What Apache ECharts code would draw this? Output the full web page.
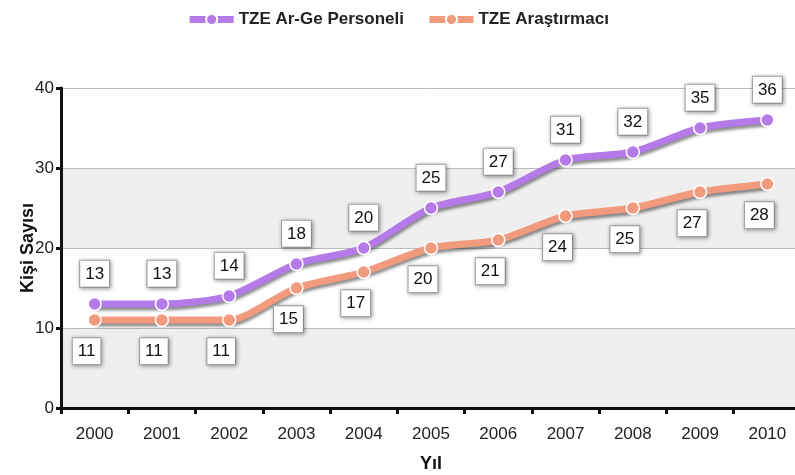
<!DOCTYPE html>
<html><head><meta charset="utf-8">
<script src="https://cdn.jsdelivr.net/npm/echarts@6/dist/echarts.min.js"></script>
<style>html,body{margin:0;padding:0;background:#fff}#c{width:795px;height:475px}</style>
</head><body><div id="c"></div>
<script>
const years = ['2000','2001','2002','2003','2004','2005','2006','2007','2008','2009','2010'];
const personel = [13,13,14,18,20,25,27,31,32,35,36];
const arastirmaci = [11,11,11,15,17,20,21,24,25,27,28];
const yTicks = [0,10,20,30,40];

const purple = '#b47be8';
const orange = '#f29a7e';
const font = '"Liberation Sans", Arial, sans-serif';

function lbl(pos, off, dist){
  return {
    show:true, position:pos, distance:dist, offset:off,
    color:'#111', fontSize:17, fontFamily:font,
    backgroundColor:'#fff', borderColor:'#aaa', borderWidth:1,
    padding:[5,5,4,5],
    shadowColor:'rgba(0,0,0,0.35)', shadowBlur:4, shadowOffsetX:1, shadowOffsetY:1
  };
}
const chart = echarts.init(document.getElementById('c'));
chart.setOption({
  animation:false,
  legend:{
    top:6, left:'center', itemGap:22, itemWidth:44, itemHeight:14,
    textStyle:{fontFamily:font, fontSize:17, fontWeight:'bold', color:'#222'},
    lineStyle:{width:7},
    data:['TZE Ar-Ge Personeli','TZE Araştırmacı']
  },
  grid:{left:61, top:88, width:740, height:320, containLabel:false, outerBoundsMode:'none'},
  xAxis:{
    type:'category', data:years, boundaryGap:true,
    name:'Yıl', nameLocation:'middle', nameGap:47, nameMoveOverlap:false,
    nameTextStyle:{fontFamily:font, fontSize:18, fontWeight:'bold', color:'#111'},
    axisLine:{lineStyle:{color:'#111', width:3}},
    axisTick:{show:true, alignWithLabel:false, length:6, lineStyle:{width:3,color:'#111'}},
    axisLabel:{fontFamily:font, fontSize:17, color:'#222', margin:18}
  },
  yAxis:{
    type:'value', min:0, max:40, interval:10,
    name:'Kişi Sayısı', nameLocation:'middle', nameGap:24, nameMoveOverlap:false,
    nameTextStyle:{fontFamily:font, fontSize:18, fontWeight:'bold', color:'#111'},
    axisLine:{show:true, lineStyle:{color:'#111', width:3}},
    axisTick:{show:true, length:5, lineStyle:{width:3,color:'#111'}},
    axisLabel:{fontFamily:font, fontSize:17, color:'#222', margin:7,
      formatter:v=>yTicks.includes(v)?String(v):''},
    splitLine:{show:true, lineStyle:{color:'#bbb', width:1}},
    splitArea:{show:true, areaStyle:{color:['#efefef','#ffffff']}}
  },
  series:[
    {
      name:'TZE Ar-Ge Personeli', type:'line', data:personel, smooth:0.25,
      symbol:'circle', symbolSize:13, z:3,
      lineStyle:{color:purple, width:7, shadowColor:'rgba(0,0,0,0.45)', shadowBlur:3, shadowOffsetY:3},
      itemStyle:{color:purple, borderColor:'#fff', borderWidth:1.5},
      label:lbl('top',[0,0],10)
    },
    {
      name:'TZE Araştırmacı', type:'line', data:arastirmaci, smooth:0.25,
      symbol:'circle', symbolSize:13, z:2,
      lineStyle:{color:orange, width:7, shadowColor:'rgba(0,0,0,0.45)', shadowBlur:3, shadowOffsetY:3},
      itemStyle:{color:orange, borderColor:'#fff', borderWidth:1.5},
      label:lbl('bottom',[-8,0],11)
    }
  ]
});
</script></body></html>
